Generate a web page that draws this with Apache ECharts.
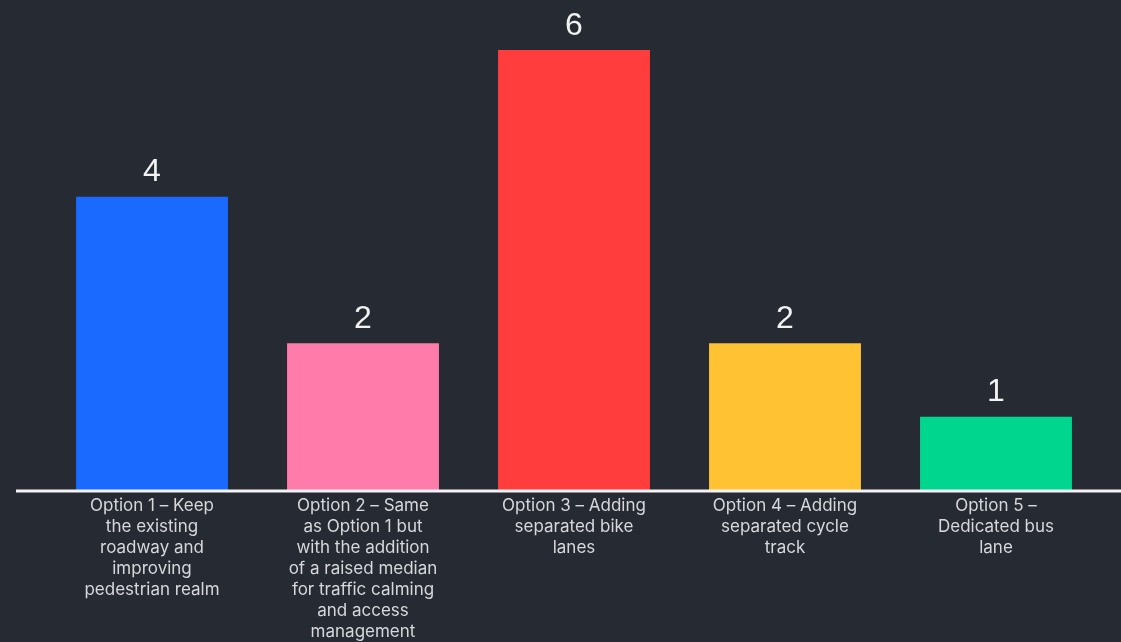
<!DOCTYPE html>
<html>
<head>
<meta charset="utf-8">
<script src="https://cdn.jsdelivr.net/npm/echarts@6/dist/echarts.min.js"></script>
<style>
html,body{margin:0;padding:0;background:#262a33;}
#chart{width:1121px;height:642px;}
</style>
</head>
<body>
<div id="chart"></div>
<script>
const categories = [
  "Option 1 – Keep\nthe existing\nroadway and\nimproving\npedestrian realm",
  "Option 2 – Same\nas Option 1 but\nwith the addition\nof a raised median\nfor traffic calming\nand access\nmanagement",
  "Option 3 – Adding\nseparated bike\nlanes",
  "Option 4 – Adding\nseparated cycle\ntrack",
  "Option 5 –\nDedicated bus\nlane"
];
const values = [4, 2, 6, 2, 1];
const barColors = ["#1a6aff", "#ff7ba9", "#ff3d3d", "#ffc233", "#00d68e"];

const chart = echarts.init(document.getElementById('chart'), null, {renderer: 'canvas'});
chart.setOption({
  backgroundColor: '#262a33',
  animation: false,
  grid: {left: 46.5, right: 19.5, top: 50, bottom: 152, containLabel: false},
  xAxis: {
    type: 'category',
    data: categories,
    axisLine: {show: false},
    axisTick: {show: false},
    axisLabel: {
      interval: 0,
      color: '#d8d8dc',
      fontSize: 17,
      lineHeight: 21,
      fontFamily: 'Inter, "Noto Sans", sans-serif',
      margin: 5,
      align: 'center'
    }
  },
  yAxis: {
    type: 'value',
    min: 0,
    max: 6,
    show: false,
    splitLine: {show: false}
  },
  graphic: [{
    type: 'line',
    shape: {x1: 16, y1: 491, x2: 1121, y2: 491},
    style: {stroke: '#f4f4f8', lineWidth: 3},
    z: 10
  }],
  series: [{
    type: 'bar',
    data: values.map((v, i) => ({value: v, itemStyle: {color: barColors[i]}})),
    barWidth: '72%',
    label: {
      show: true,
      position: 'top',
      distance: 8,
      color: '#f2f2f2',
      fontSize: 32,
      fontFamily: '"Liberation Sans", Arial, sans-serif'
    }
  }]
});
</script>
</body>
</html>
